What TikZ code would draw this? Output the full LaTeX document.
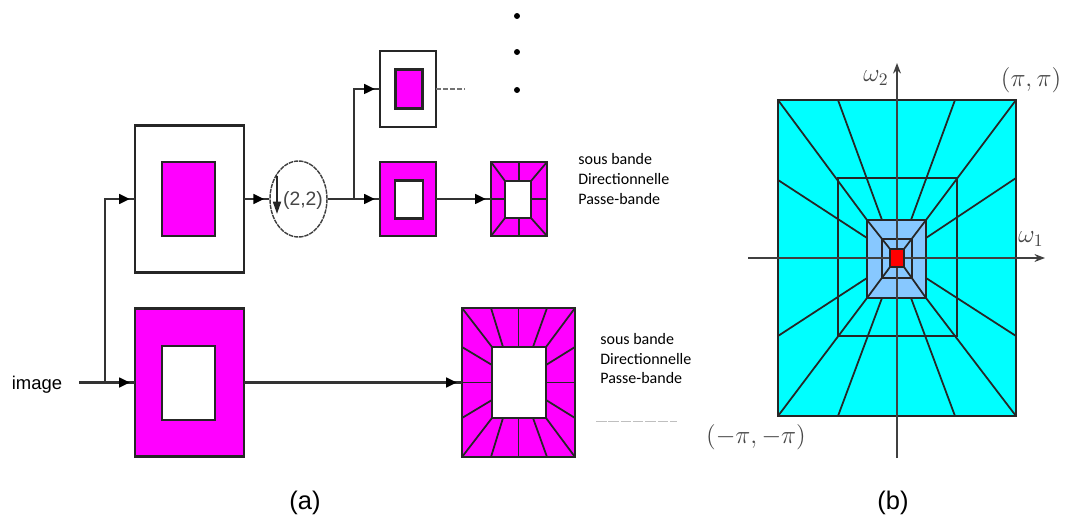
\documentclass[tikz,border=0pt]{standalone}
\usepackage{fontspec}
\setmainfont{Liberation Sans}
\newfontfamily\notefont{Carlito}
\usetikzlibrary{arrows.meta,shapes.geometric,decorations.markings}
\definecolor{bandmag}{RGB}{255,0,255}
\definecolor{bandcyan}{RGB}{0,255,255}
\definecolor{bandblue}{RGB}{135,200,255}
\definecolor{inktext}{RGB}{70,70,70}
\tikzset{
	pane/.style={draw=black!85,line width=1.2pt,inner sep=0pt,outer sep=0pt},
	wire/.style={line width=1.2pt,black!80,postaction={decorate},decoration={markings,mark=at position -3pt with {\arrow[black]{Triangle[length=6pt,width=5.5pt]}}}},
	plain/.style={line width=1.2pt,black!80},
	spoke/.style={line width=1pt,black!85},
	dot/.style={circle,fill=black,inner sep=0pt,minimum size=3.4pt},
	note/.style={align=left,anchor=north west,inner sep=0pt,font=\notefont\fontsize{9.1}{11.2}\selectfont},
	sym/.style={text=inktext,inner sep=0pt,font=\fontsize{14.8}{18}\selectfont},
	caption/.style={inner sep=0pt,font=\fontsize{14.5}{16}\selectfont}
}
\begin{document}
\begin{tikzpicture}[x=0.02cm,y=-0.02cm,>=stealth]
	\useasboundingbox (0,0) rectangle (1065,520);
	% decomposition
	\node[pane,fill=white,minimum width=2.18cm,minimum height=2.94cm] (imgA) at (189.5,199) {};
	\node[pane,fill=bandmag,minimum width=1.06cm,minimum height=1.48cm] (imgAin) at (188.5,199) {};
	\node[pane,fill=bandmag,minimum width=2.18cm,minimum height=2.96cm] (imgB) at (189.5,382.5) {};
	\node[pane,fill=white,minimum width=1.06cm,minimum height=1.48cm] (imgBin) at (188.5,383) {};
	\node[pane,fill=white,minimum width=1.12cm,minimum height=1.52cm] (topbox) at (408,89) {};
	\node[pane,fill=bandmag,minimum width=0.54cm,minimum height=0.78cm] (topin) at (409,89) {};
	\node[pane,fill=bandmag,minimum width=1.12cm,minimum height=1.48cm] (midbox) at (408,199) {};
	\node[pane,fill=white,minimum width=0.56cm,minimum height=0.76cm] (midin) at (409,199.5) {};
	\node[pane,fill=bandmag,minimum width=1.12cm,minimum height=1.48cm] (dirA) at (519,199) {};
	\node[pane,fill=bandmag,minimum width=2.26cm,minimum height=2.98cm] (dirB) at (518.5,382.5) {};
	\foreach \ax/\ay/\bx/\by in {491/162/505/181,547/162/531/181,491/236/505/218,547/236/531/218,
		519/162/519/181,519/236/519/218,491/199/505/199,547/199/531/199}
		\draw[spoke] (\ax,\ay)--(\bx,\by);
	\foreach \ax/\ay/\bx/\by in {462/308/492/347,491/308/503/347,518.5/308/518.5/347,547/308/533/347,575/308/546/347,
		462/457/492/418,491/457/503/418,518.5/457/518.5/418,547/457/533/418,575/457/546/418,
		462/347/492/365,462/382.5/492/382.5,462/418/492/400,575/347/546/365,575/382.5/546/382.5,575/418/546/400}
		\draw[spoke] (\ax,\ay)--(\bx,\by);
	\node[pane,fill=white,minimum width=0.52cm,minimum height=0.74cm] (dirAin) at (518,199.5) {};
	\node[pane,fill=white,minimum width=1.08cm,minimum height=1.42cm] (dirBin) at (519,382.5) {};
	\node[ellipse,draw=black!75,dash pattern=on 2.5pt off 0.5pt,line width=0.8pt,inner sep=0pt,minimum width=1.14cm,minimum height=1.52cm] (down) at (298.5,199) {};
	\node[inner sep=0pt,text=inktext,font=\fontsize{11}{13}\selectfont] (factor) at (303,200) {(2,2)};
	\coordinate (arrT) at (277,176);
	\coordinate (arrB) at (277,214);
	\draw[line width=1.1pt,black!85,-{Triangle[length=7pt,width=4.5pt]}] (arrT)--(arrB);
	\node[inner sep=0pt,font=\fontsize{10.5}{12}\selectfont] (image) at (37,385) {image};
	\coordinate (start) at (79,382.5);
	\coordinate (inA) at (105,382.5);
	\coordinate (inB) at (354,199);
	\coordinate (more) at (465,89);
	\draw[plain] (start)--(inA);
	\draw[wire] (inA)--(imgB.west);
	\draw[wire] (inA)|-(imgA.west);
	\draw[wire] (imgA.east)--(down.west);
	\draw[plain] (down.east)--(inB);
	\draw[wire] (inB)--(midbox.west);
	\draw[wire] (inB)|-(topbox.west);
	\draw[wire] (midbox.east)--(dirA.west);
	\draw[wire] (imgB.east)--(dirB.west);
	\draw[line width=1.1pt,black!55,dash pattern=on 3pt off 1pt] (topbox.east)--(more);
	\node[dot] (dotA) at (517,16) {};
	\node[dot] (dotB) at (517,52) {};
	\node[dot] (dotC) at (517,90) {};
	\node[note] (noteA) at (578,153.5) {sous bande\\Directionnelle\\Passe-bande};
	\node[note] (noteB) at (600,333) {sous bande\\Directionnelle\\Passe-bande};
	\draw[black!25,line width=0.5pt,dash pattern=on 6pt off 1pt] (596,421)--(677,421);
	\node[caption] (capA) at (305,503) {(a)};
	% spectrum
	\node[pane,fill=bandcyan,minimum width=4.76cm,minimum height=6.32cm] (outer) at (897,258) {};
	\node[pane,minimum width=2.38cm,minimum height=3.16cm] (middle) at (897.5,257) {};
	\foreach \ax/\ay/\bx/\by in {778/100/867/220,838/100/882/220,955/100/911/220,1016/100/926/220,
		778/416/867/298,838/416/882/298,955/416/911/298,1016/416/926/298,
		778/180/867/238,778/336/867/278,1016/178/926/238,1016/336/926/278}
		\draw[spoke] (\ax,\ay)--(\bx,\by);
	\node[pane,fill=bandblue,minimum width=1.18cm,minimum height=1.56cm] (inner) at (896.5,259) {};
	\foreach \ax/\ay/\bx/\by in {867/220/890/249,926/220/904/249,867/298/890/267,926/298/904/267}
		\draw[spoke] (\ax,\ay)--(\bx,\by);
	\node[pane,minimum width=0.6cm,minimum height=0.78cm] (core) at (897,258.5) {};
	\coordinate (axL) at (748,258);
	\coordinate (axR) at (1045,258);
	\coordinate (axT) at (897,63);
	\coordinate (axB) at (897,458);
	\draw[line width=1.2pt,black!75,-{Stealth[length=6pt,width=4.5pt]}] (axL)--(axR);
	\draw[line width=1.2pt,black!75,-{Stealth[length=6pt,width=4.5pt]}] (axB)--(axT);
	\node[pane,fill=red,minimum width=0.28cm,minimum height=0.36cm] (dc) at (897,258) {};
	\node[sym] (wTwo) at (876,78) {$\omega_2$};
	\node[sym] (wOne) at (1031,239) {$\omega_1$};
	\node[sym] (piA) at (1031,80) {$(\pi,\pi)$};
	\node[sym] (piB) at (756,437) {$(-\pi,-\pi)$};
	\node[caption] (capB) at (893,503) {(b)};
\end{tikzpicture}
\end{document}
